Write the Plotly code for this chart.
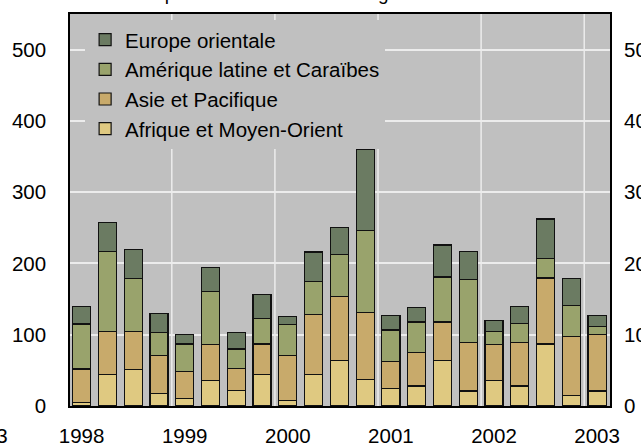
import plotly.graph_objects as go

quarters = ["1998T1", "1998T2", "1998T3", "1998T4",
            "1999T1", "1999T2", "1999T3", "1999T4",
            "2000T1", "2000T2", "2000T3", "2000T4",
            "2001T1", "2001T2", "2001T3", "2001T4",
            "2002T1", "2002T2", "2002T3", "2002T4",
            "2003T1"]
afrique = [5, 44, 51, 17, 10, 35.5, 22, 44, 8, 44, 64, 37, 24, 28, 64, 21, 35.5, 28, 87, 15, 21]
asie = [47, 61, 54, 54, 38.5, 51, 31, 43, 63, 84, 90, 94, 38.5, 47, 54, 68, 51, 61, 92.5, 83, 79]
amerique = [63, 112, 74, 32, 38.5, 74, 27, 36, 43, 47, 59, 115, 44, 43, 63, 88, 18, 27, 27, 43, 11]
europe = [25, 41, 41, 27, 13, 34, 23, 34, 12, 41, 38, 114, 21, 20, 45, 40, 16, 24, 56, 38, 16]

year_ticks = ["1998T1", "1999T1", "2000T1", "2001T1", "2002T1", "2003T1"]
year_labels = ["1998", "1999", "2000", "2001", "2002", "2003"]
y_ticks = [0, 100, 200, 300, 400, 500]

series = [
    ("Afrique et Moyen-Orient", afrique, "#dfc981"),
    ("Asie et Pacifique", asie, "#c8aa6b"),
    ("Amérique latine et Caraïbes", amerique, "#99a36c"),
    ("Europe orientale", europe, "#6b7b62"),
]

FONT = "Liberation Sans, Arial, sans-serif"
fig = go.Figure()
for name, vals, col in series:
    fig.add_trace(go.Bar(
        x=quarters, y=vals, name=name,
        marker=dict(color=col, line=dict(color="#111111", width=1.2)),
        width=0.7,
    ))
# invisible trace to carry right axis
fig.add_trace(go.Scatter(x=[quarters[0]], y=[None], yaxis="y2", showlegend=False,
                         hoverinfo="skip", mode="markers"))

# vertical year-boundary gridlines
for i in range(3, len(quarters) - 1, 4):
    fig.add_shape(type="line", xref="x", yref="paper", x0=i + 0.5, x1=i + 0.5,
                  y0=0, y1=1, line=dict(color="#ececec", width=1.5), layer="below")

yr = [0, 550]
fig.update_layout(
    width=641, height=446,
    margin=dict(l=70, r=31, t=14, b=40, autoexpand=False),
    barmode="stack",
    plot_bgcolor="#c0c0c0", paper_bgcolor="white",
    font=dict(family=FONT, size=20.5, color="black"),
    showlegend=True,
    legend=dict(x=0.028, y=0.985, xanchor="left", yanchor="top",
                bgcolor="#c0c0c0", borderwidth=0, traceorder="reversed",
                font=dict(size=20.5, family=FONT)),
    xaxis=dict(type="category", categoryorder="array", categoryarray=quarters,
               range=[-0.45, 20.5], tickvals=year_ticks, ticktext=year_labels,
               showgrid=False, ticks="", showline=True, linecolor="black",
               linewidth=1.5, mirror=True, ticklabelstandoff=11,
               tickfont=dict(size=20.5)),
    yaxis=dict(range=yr, tickvals=y_ticks, showgrid=True, gridcolor="#ececec",
               gridwidth=1.5, zeroline=False, ticks="", showline=True,
               linecolor="black", linewidth=1.5, mirror=True,
               ticklabelstandoff=18, tickfont=dict(size=20.5)),
    yaxis2=dict(range=yr, tickvals=y_ticks, overlaying="y", side="right",
                showgrid=False, zeroline=False, ticks="", showline=False,
                ticklabelstandoff=13, tickfont=dict(size=20.5)),
    bargap=0.3,
)

# clipped title (only bottom of glyphs visible) and neighbouring label fragment
fig.add_annotation(text="Entrées nettes pour les économies émergentes",
                   xref="paper", yref="paper", x=(437 - 70) / 540, y=1 + (14 - 6) / 392,
                   xanchor="right", yanchor="bottom", showarrow=False,
                   font=dict(size=19, family=FONT))
fig.add_annotation(text="2003", xref="paper", yref="paper",
                   x=(10 - 70) / 540, y=-(436 - 406) / 392,
                   xanchor="right", yanchor="middle", showarrow=False,
                   font=dict(size=20.5, family=FONT))

fig.write_html("out.html", config={"displayModeBar": False},
               post_script="document.body.style.margin='0';document.body.style.overflow='hidden';")
